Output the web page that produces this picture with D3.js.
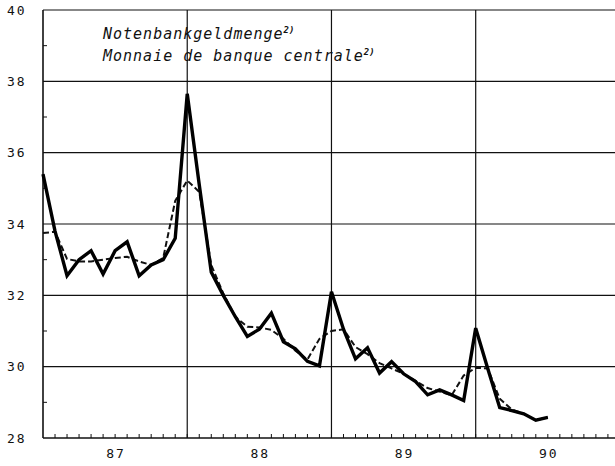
<!DOCTYPE html>
<html>
<head>
<meta charset="utf-8">
<script src="https://cdn.jsdelivr.net/npm/d3@7"></script>
<style>
  body { margin: 0; background: #fff; }
  svg { display: block; }
  .label { font-family: "DejaVu Sans Mono", monospace; font-size: 13px; fill: #111; letter-spacing: 2px; }
  .title { font-family: "DejaVu Sans Mono", monospace; font-style: italic; font-size: 15px; fill: #111; letter-spacing: 1px; }
</style>
</head>
<body>
<div id="chart"></div>
<script>
// Data (month-end values, Dec 1986 – Jun 1990)
const months = [
  "1986-12",
  "1987-01", "1987-02", "1987-03", "1987-04", "1987-05", "1987-06",
  "1987-07", "1987-08", "1987-09", "1987-10", "1987-11", "1987-12",
  "1988-01", "1988-02", "1988-03", "1988-04", "1988-05", "1988-06",
  "1988-07", "1988-08", "1988-09", "1988-10", "1988-11", "1988-12",
  "1989-01", "1989-02", "1989-03", "1989-04", "1989-05", "1989-06",
  "1989-07", "1989-08", "1989-09", "1989-10", "1989-11", "1989-12",
  "1990-01", "1990-02", "1990-03", "1990-04", "1990-05", "1990-06",
];
const notenbankgeld = [
  35.4,
  33.8, 32.55, 33.0, 33.25, 32.6, 33.25, 33.5, 32.55, 32.85, 33.0, 33.6, 37.65,
  35.1, 32.65, 32.0, 31.4, 30.85, 31.05, 31.5, 30.7, 30.5, 30.15, 30.02, 32.1,
  31.05, 30.22, 30.53, 29.82, 30.14, 29.8, 29.58, 29.21, 29.35, 29.21, 29.05, 31.08,
  29.95, 28.85, 28.77, 28.68, 28.5, 28.58,
];
const trend = [
  33.75,
  33.78, 33.02, 32.95, 32.95, 33.0, 33.05, 33.08, 32.95, 32.85, 33.05, 34.65, 35.22,
  34.9, 32.85, 32.05, 31.4, 31.12, 31.1, 31.03, 30.78, 30.45, 30.2, 30.78, 31.0,
  31.05, 30.55, 30.35, 30.1, 29.95, 29.8, 29.6, 29.4, 29.3, 29.2, 29.75, 29.97,
  29.95, 29.1, 28.8, 28.68, 28.5, 28.58,
];
const yTicks = [28, 30, 32, 34, 36, 38, 40];
const yMinorTicks = [29, 31, 33, 35, 37, 39];
const years = ["87", "88", "89", "90"];
const titleLines = ["Notenbankgeldmenge", "Monnaie de banque centrale"];

// Set up
const width = 615;
const height = 466;

// month offset from 1 Jan 1987, value plotted at month end
const monthIndex = (s) => (+s.slice(0, 4) - 1987) * 12 + +s.slice(5, 7);

const xScale = d3.scaleLinear().domain([0, 36]).range([43, 475.7]);
const yScale = d3.scaleLinear().domain([28, 40]).range([438, 10]);

const svg = d3
  .select("#chart")
  .append("svg")
  .attr("width", width)
  .attr("height", height);

const g = svg.append("g");

// Grid
g.append("g")
  .selectAll("line")
  .data(yTicks)
  .join("line")
  .attr("x1", xScale(0))
  .attr("x2", xScale(48))
  .attr("y1", (d) => yScale(d))
  .attr("y2", (d) => yScale(d))
  .attr("stroke", "#111")
  .attr("stroke-width", (d) => (d === 28 ? 1.6 : 1.2));

g.append("g")
  .selectAll("line")
  .data([0, 12, 24, 36])
  .join("line")
  .attr("x1", (d) => xScale(d))
  .attr("x2", (d) => xScale(d))
  .attr("y1", yScale(40))
  .attr("y2", yScale(28))
  .attr("stroke", "#111")
  .attr("stroke-width", (d) => (d === 0 ? 1.6 : 1.2));

// Month ticks on the x axis
g.append("g")
  .selectAll("line")
  .data(d3.range(1, 48))
  .join("line")
  .attr("x1", (d) => xScale(d))
  .attr("x2", (d) => xScale(d))
  .attr("y1", yScale(28))
  .attr("y2", yScale(28) - 4)
  .attr("stroke", "#111")
  .attr("stroke-width", 1);

// Minor ticks on the y axis
g.append("g")
  .selectAll("line")
  .data(yMinorTicks)
  .join("line")
  .attr("x1", xScale(0))
  .attr("x2", xScale(0) + 4)
  .attr("y1", (d) => yScale(d))
  .attr("y2", (d) => yScale(d))
  .attr("stroke", "#111")
  .attr("stroke-width", 1);

// Axis labels
g.append("g")
  .selectAll("text")
  .data(yTicks)
  .join("text")
  .attr("class", "label")
  .attr("x", 7)
  .attr("y", (d) => yScale(d))
  .attr("dy", "0.36em")
  .text((d) => d);

g.append("g")
  .selectAll("text")
  .data(years)
  .join("text")
  .attr("class", "label")
  .attr("text-anchor", "middle")
  .attr("x", (d, i) => xScale(i * 12 + 6) + 1)
  .attr("y", 458)
  .text((d) => d);

// Lines
const line = d3
  .line()
  .x((d) => xScale(monthIndex(d.month)))
  .y((d) => yScale(d.value));

g.append("path")
  .datum(months.map((m, i) => ({ month: m, value: trend[i] })))
  .attr("fill", "none")
  .attr("stroke", "#111")
  .attr("stroke-width", 2)
  .attr("stroke-dasharray", "6,3")
  .attr("d", line);

g.append("path")
  .datum(months.map((m, i) => ({ month: m, value: notenbankgeld[i] })))
  .attr("fill", "none")
  .attr("stroke", "#000")
  .attr("stroke-width", 3.4)
  .attr("stroke-linejoin", "miter")
  .attr("d", line);

// Title
const title = g
  .append("g")
  .selectAll("text")
  .data(titleLines)
  .join("text")
  .attr("class", "title")
  .attr("x", 103)
  .attr("y", (d, i) => 39 + i * 22);
title.append("tspan").text((d) => d);
title
  .append("tspan")
  .attr("dy", -6)
  .attr("font-size", 9)
  .attr("font-weight", "bold")
  .attr("letter-spacing", 0)
  .text("2)");
</script>
</body>
</html>
